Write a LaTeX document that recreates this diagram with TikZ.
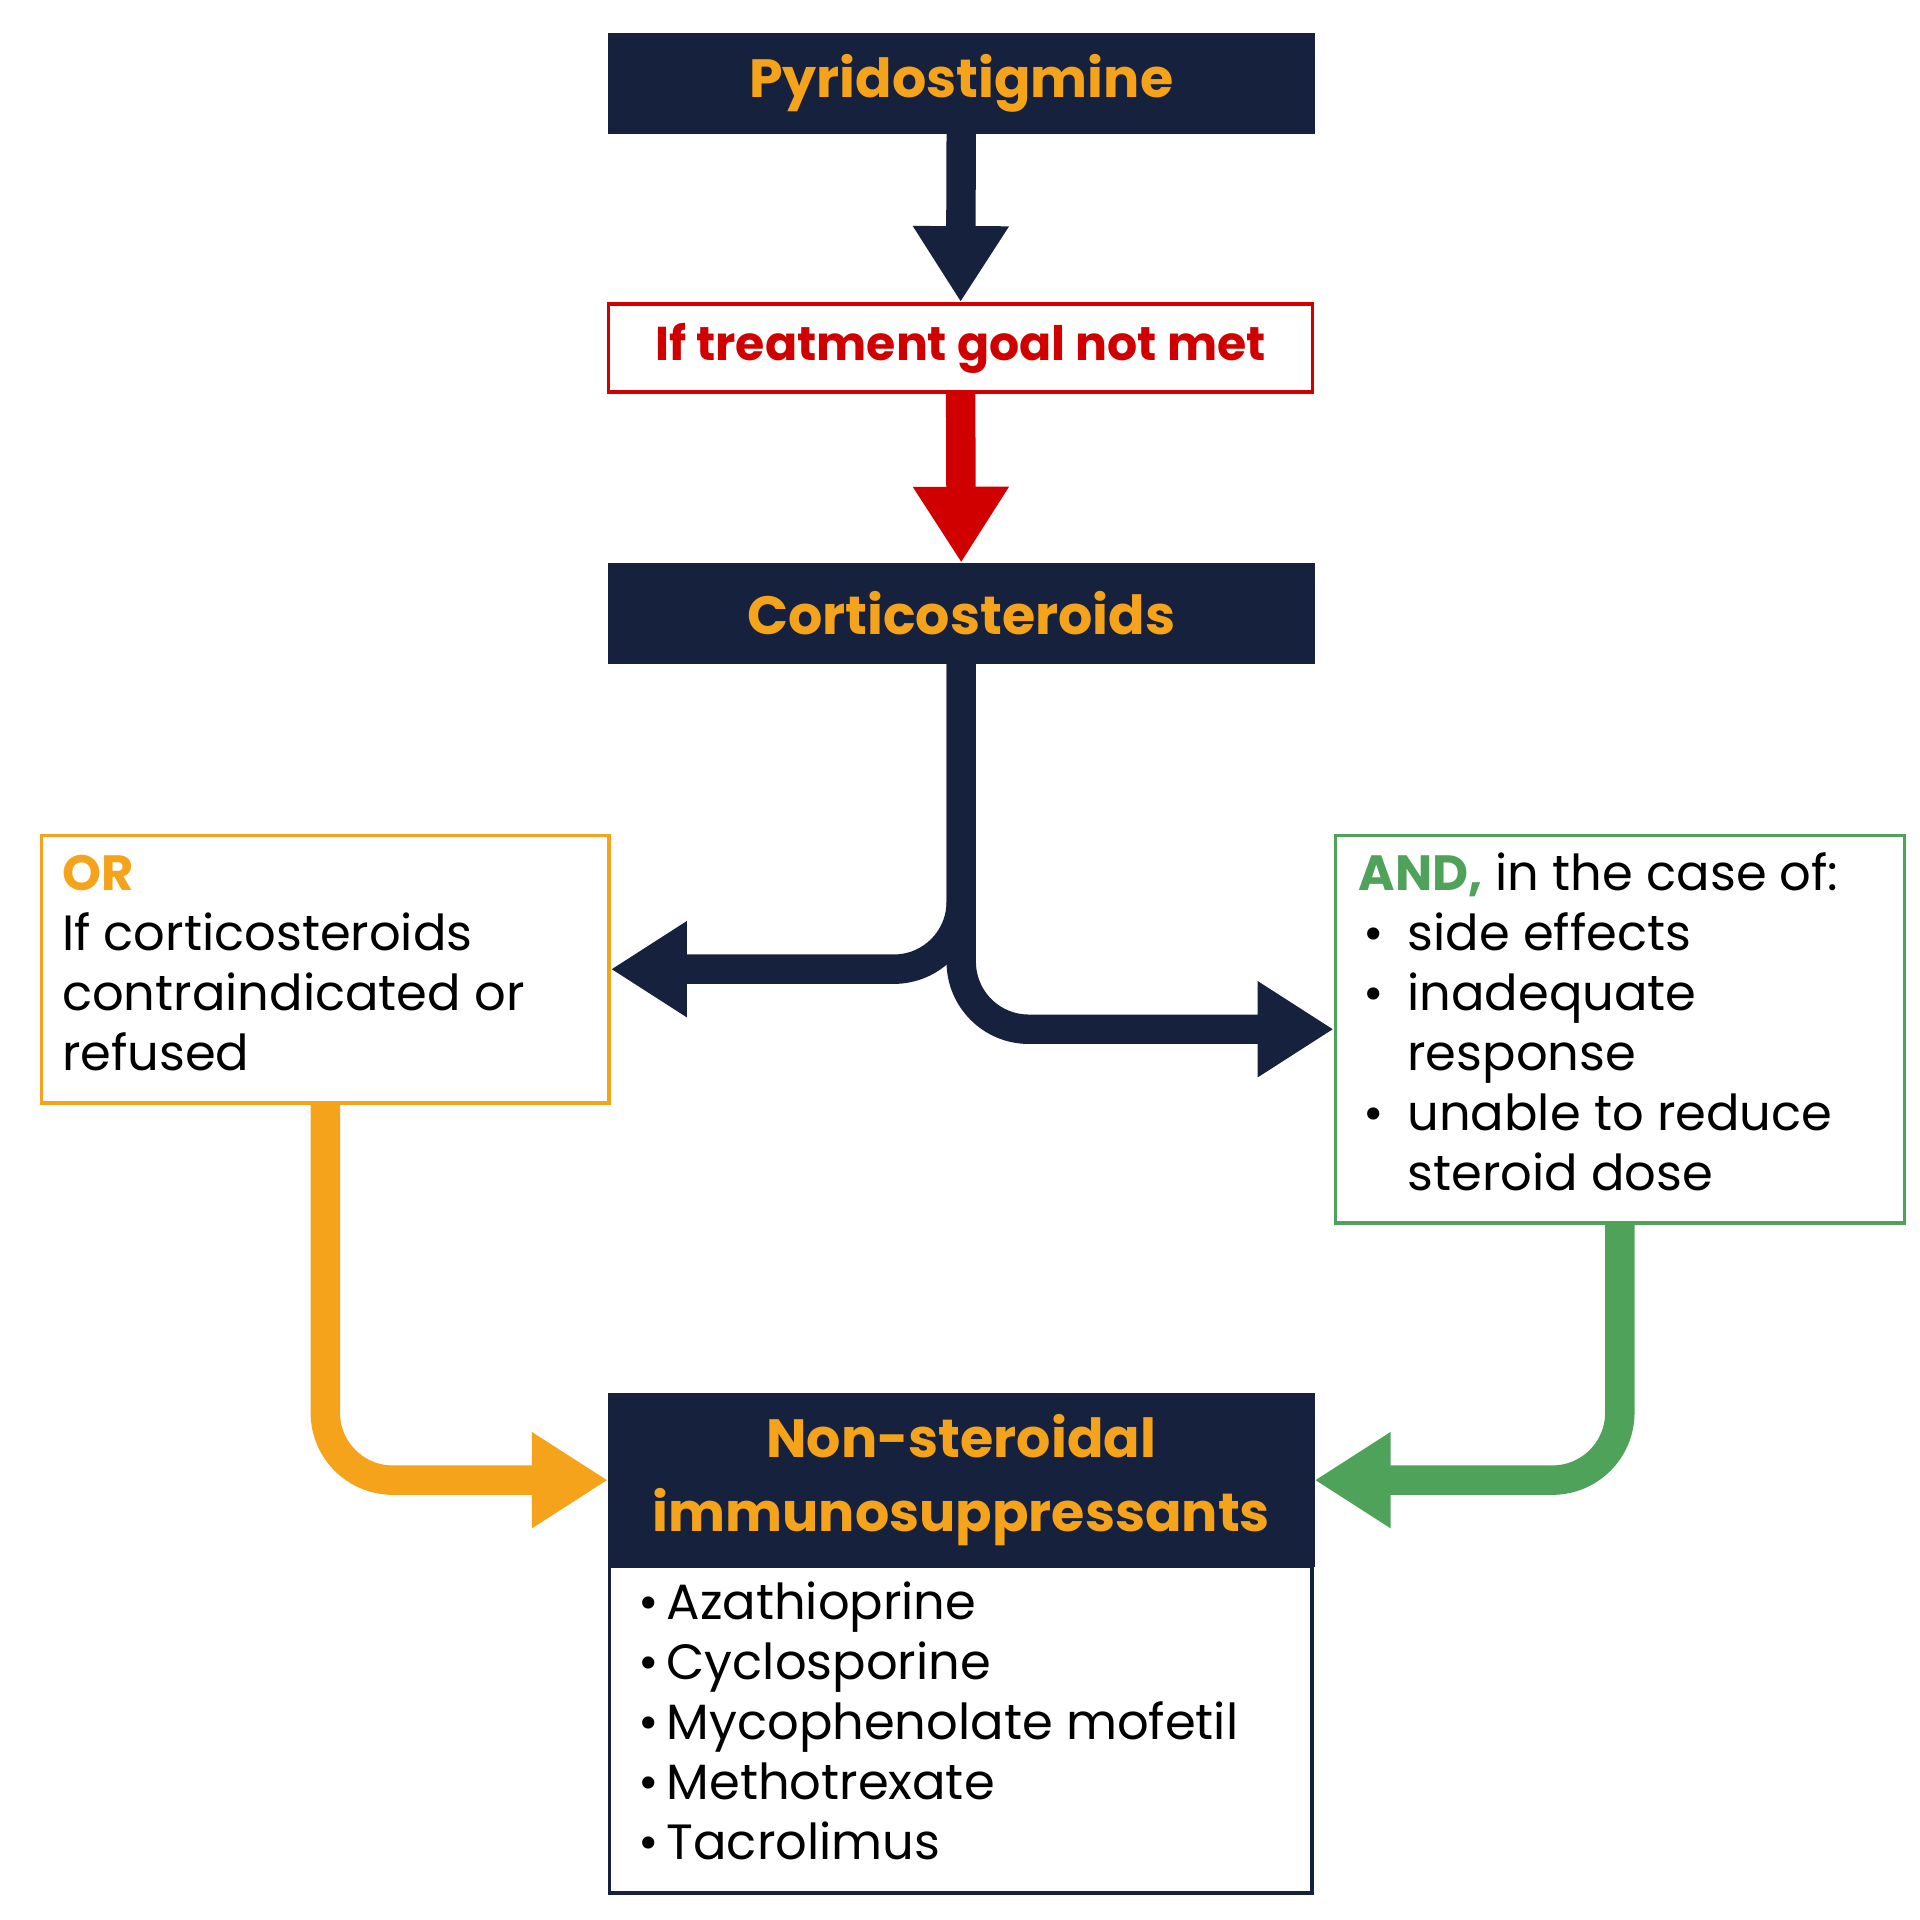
\documentclass[tikz,border=0pt]{standalone}
\usepackage{fontspec}
\setmainfont{Poppins}
\usetikzlibrary{arrows.meta}
\definecolor{navy}{HTML}{16213E}
\definecolor{orng}{HTML}{F5A31A}
\definecolor{rd}{HTML}{D10000}
\definecolor{grn}{HTML}{4EA25A}
\begin{document}
\begin{tikzpicture}[x=0.01cm,y=-0.01cm,
  hdr/.style={fill=navy,draw=navy,inner sep=0,font=\fontsize{12.5}{15}\selectfont\bfseries,text=orng},
  frame/.style={draw,line width=0.8pt,inner sep=0,fill=white},
  conn/.style={line width=0.24cm,-{Triangle[width=0.74cm,length=0.62cm]},rounded corners=0.55cm},
  txt/.style={anchor=base west,inner sep=0,font=\fontsize{11.5}{14}\selectfont},
  lst/.style={anchor=base west,inner sep=0,font=\fontsize{11.5}{14}\selectfont}]
\useasboundingbox (0,0) rectangle (1567,1567);
\node[hdr,minimum width=5.75cm,minimum height=0.81cm] (pyr) at (784.5,68) {Pyridostigmine};
\node[frame,draw=rd,minimum width=5.74cm,minimum height=0.72cm,text=rd,font=\fontsize{11}{13}\selectfont\bfseries] (goal) at (784,284) {If treatment goal not met};
\node[hdr,minimum width=5.75cm,minimum height=0.81cm] (cort) at (784.5,500.5) {Corticosteroids};
\node[frame,draw=orng,minimum width=4.63cm,minimum height=2.18cm] (or) at (265.5,791) {};
\node[frame,draw=grn,minimum width=4.64cm,minimum height=3.16cm] (and) at (1322,840) {};
\node[frame,draw=navy,minimum width=5.73cm,minimum height=2.67cm] (lst) at (784,1411.5) {};
\node[hdr,minimum width=5.75cm,minimum height=1.40cm,align=center,font=\fontsize{12.5}{17}\selectfont\bfseries] (ns) at (784.5,1208) {Non-steroidal\\immunosuppressants};

\draw[conn,navy,rounded corners=0] (pyr.south) -- (goal.north);
\draw[conn,rd,rounded corners=0] (goal.south) -- (cort.north);
\draw[conn,navy] (cort.south) |- (or.east);
\draw[conn,navy] (cort.south) |- (and.west);
\draw[conn,orng] (or.south) |- (ns.west);
\draw[conn,grn] (and.south) |- (ns.east);

\node[txt,text=orng,font=\fontsize{11.5}{14}\selectfont\bfseries] (or1) at (50,727) {OR};
\node[txt] (or2) at (50,776) {If corticosteroids};
\node[txt] (or3) at (50,825) {contraindicated or};
\node[txt] (or4) at (50,874) {refused};

\node[txt] (a1) at (1108,727) {\textcolor{grn}{\bfseries AND,} in the case of:};
\foreach \y/\t in {776/side effects,825/inadequate,874/response,923/unable to reduce,972/steroid dose}
  \node[txt] at (1148,\y) {\t};
\foreach \y in {776,825,923} \node[txt] at (1112,\y) {\textbullet};

\foreach \y/\t in {1322/Azathioprine,1371/Cyclosporine,1420/Mycophenolate mofetil,1469/Methotrexate,1518/Tacrolimus}
  \node[lst] at (520,\y) {\textbullet\,\t};
\end{tikzpicture}
\end{document}
